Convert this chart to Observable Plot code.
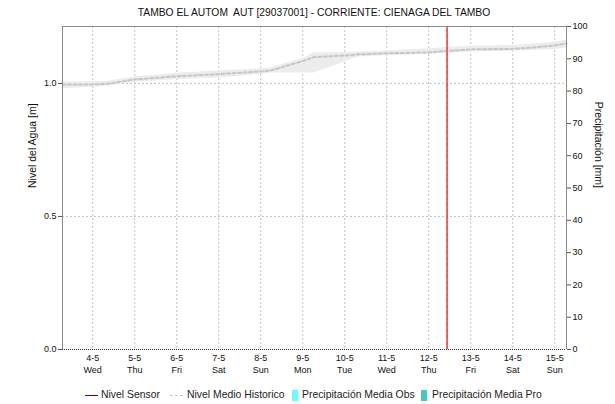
<!DOCTYPE html>
<html>
<head>
<meta charset="utf-8">
<script src="https://cdn.jsdelivr.net/npm/d3@7"></script>
<script src="https://cdn.jsdelivr.net/npm/@observablehq/plot@0.6"></script>
<style>
  body { margin: 0; background: #fff; font-family: "Liberation Sans", Arial, sans-serif; }
  #wrap { position: relative; width: 615px; height: 404px; overflow: hidden; background: #fff; }
  #title { height: 20px; box-sizing: border-box; padding: 6px 49px 0 62px; line-height: 14px; font-size: 10.3px; text-align: center; white-space: pre; color: #111; }
  #chart svg { display: block; }
  #legend { position: absolute; left: 0; top: 388px; width: 615px; height: 14px; font-size: 10.4px; color: #222; }
  #legend span { position: absolute; top: 0; line-height: 14px; white-space: nowrap; }
  #legend i { position: absolute; display: block; }
</style>
</head>
<body>
<div id="wrap">
  <div id="title"></div>
  <div id="chart"></div>
  <div id="legend"></div>
</div>
<script>
// ---- data ----
const titleText = "TAMBO EL AUTOM  AUT [29037001] - CORRIENTE: CIENAGA DEL TAMBO";
const yLabelLeft = "Nivel del Agua [m]";
const yLabelRight = "Precipitación [mm]";
const legendLabels = ["Nivel Sensor", "Nivel Medio Historico", "Precipitación Media Obs", "Precipitación Media Pro"];

const domainStart = "2022-05-03T06:45";
const domainEnd = "2022-05-15T06:45";
const nowTime = "2022-05-12T10:30";

const dayTicks = ["2022-05-04","2022-05-05","2022-05-06","2022-05-07","2022-05-08","2022-05-09","2022-05-10","2022-05-11","2022-05-12","2022-05-13","2022-05-14","2022-05-15"];
const dayLabels = ["4-5","5-5","6-5","7-5","8-5","9-5","10-5","11-5","12-5","13-5","14-5","15-5"];
const weekdayLabels = ["Wed","Thu","Fri","Sat","Sun","Mon","Tue","Wed","Thu","Fri","Sat","Sun"];

const levelTicks = [0, 0.5, 1.0];
const levelMax = 1.214;
const precipTicks = [0,10,20,30,40,50,60,70,80,90,100];
const precipMax = 100;

const histTimes = ["2022-05-03T06:45","2022-05-04T00:00","2022-05-04T09:00","2022-05-05T00:00","2022-05-06T00:00","2022-05-07T00:00","2022-05-08T00:00","2022-05-08T06:00","2022-05-09T00:00","2022-05-09T06:30","2022-05-10T00:00","2022-05-10T07:30","2022-05-11T00:00","2022-05-12T00:00","2022-05-12T10:30","2022-05-13T00:00","2022-05-14T00:00","2022-05-14T10:00","2022-05-15T00:00","2022-05-15T06:45"];
const histMean = [0.996,0.996,0.999,1.015,1.027,1.035,1.045,1.049,1.084,1.099,1.105,1.109,1.113,1.117,1.122,1.128,1.130,1.134,1.143,1.150];
const histMax  = [1.005,1.006,1.008,1.024,1.038,1.047,1.055,1.059,1.093,1.115,1.115,1.118,1.122,1.130,1.135,1.140,1.143,1.147,1.155,1.163];
const histMin  = [0.980,0.986,0.990,1.004,1.015,1.020,1.034,1.039,1.039,1.039,1.081,1.099,1.104,1.109,1.113,1.118,1.121,1.124,1.128,1.133];

// no sensor readings / precipitation visible in the reference
const sensorTimes = [];
const sensorLevel = [];

// ---- build ----
const parse = s => new Date((s.length === 10 ? s + "T00:00" : s) + ":00Z");
const hist = histTimes.map((t, i) => ({t: parse(t), mean: histMean[i], min: histMin[i], max: histMax[i]}));
const sensor = sensorTimes.map((t, i) => ({t: parse(t), v: sensorLevel[i]}));
const ticks = dayTicks.map(parse);
const dayMap = new Map(ticks.map((d, i) => [+d, dayLabels[i]]));
const wdMap = new Map(ticks.map((d, i) => [+d, weekdayLabels[i]]));
const x0 = parse(domainStart), x1 = parse(domainEnd);
const toLevel = p => p / precipMax * levelMax;

document.getElementById("title").textContent = titleText;

const grid = {stroke: "#c2c2c2", strokeDasharray: "2,2", strokeWidth: 1};

const chart = Plot.plot({
  width: 615,
  height: 359,
  marginTop: 6,
  marginBottom: 30,
  marginLeft: 62,
  marginRight: 49,
  style: {fontFamily: "'Liberation Sans', Arial, sans-serif", fontSize: "9px", color: "#111", background: "#fff", overflow: "visible"},
  x: {type: "utc", domain: [x0, x1]},
  y: {domain: [0, levelMax]},
  marks: [
    Plot.ruleX(ticks, grid),
    Plot.ruleY(levelTicks.filter(d => d > 0), grid),
    Plot.areaY(hist, {x: "t", y1: "min", y2: "max", fill: "#ececec", curve: "linear"}),
    Plot.lineY(hist, {x: "t", y: "mean", stroke: "#c6c6c6", strokeWidth: 2, strokeDasharray: "3,2.5"}),
    Plot.lineY(sensor, {x: "t", y: "v", stroke: "#0000dd", strokeWidth: 1.5}),
    Plot.ruleX([parse(nowTime)], {stroke: "#ff4545", strokeWidth: 1.8}),
    Plot.ruleX([parse(nowTime)], {stroke: "#c8a0a0", strokeWidth: 0.8, strokeDasharray: "3,3", strokeOpacity: 0.6}),
    Plot.ruleX([x0, x1], {stroke: "#8a8a8a"}),
    Plot.ruleY([levelMax], {stroke: "#8a8a8a"}),
    Plot.ruleY([0], {stroke: "#333", strokeDasharray: "1,1"}),
    Plot.axisY(levelTicks, {anchor: "left", tickSize: 4, tickPadding: 2, tickFormat: d3.format(".1f"), label: null, stroke: "#555"}),
    Plot.axisY(precipTicks.map(toLevel), {anchor: "right", tickSize: 4, tickPadding: 2, tickFormat: d => String(Math.round(d / levelMax * precipMax)), label: null, stroke: "#555"}),
    Plot.axisX(ticks, {anchor: "bottom", tickSize: 0, tickPadding: 5, tickFormat: d => dayMap.get(+d), label: null}),
    Plot.axisX(ticks, {anchor: "bottom", tickSize: 0, tickPadding: 17, tickFormat: d => wdMap.get(+d), label: null}),
    Plot.text([yLabelLeft], {frameAnchor: "left", text: d => d, rotate: -90, dx: -30, fontSize: 10.5, fill: "#111"}),
    Plot.text([yLabelRight], {frameAnchor: "right", text: d => d, rotate: 90, dx: 32, fontSize: 10.5, fill: "#111"})
  ]
});
document.getElementById("chart").appendChild(chart);

// legend
const legend = document.getElementById("legend");
const items = [
  {sw: "line", color: "#1010d0", sx: 85, tx: 101},
  {sw: "dash", color: "#c8c8c8", sx: 170, tx: 187},
  {sw: "box", color: "#66ffff", sx: 292, tx: 302},
  {sw: "box", color: "#44c8c4", sx: 421, tx: 432}
];
items.forEach((it, i) => {
  const s = document.createElement("i");
  s.style.left = it.sx + "px";
  if (it.sw === "box") {
    s.style.top = "2px"; s.style.width = "6px"; s.style.height = "11px"; s.style.background = it.color;
  } else {
    s.style.top = "7px"; s.style.width = "13px"; s.style.height = "0";
    s.style.borderTop = it.sw === "line" ? "1.5px solid " + it.color : "1.5px dashed " + it.color;
  }
  legend.appendChild(s);
  const t = document.createElement("span");
  t.style.left = it.tx + "px";
  t.textContent = legendLabels[i];
  legend.appendChild(t);
});
</script>
</body>
</html>
